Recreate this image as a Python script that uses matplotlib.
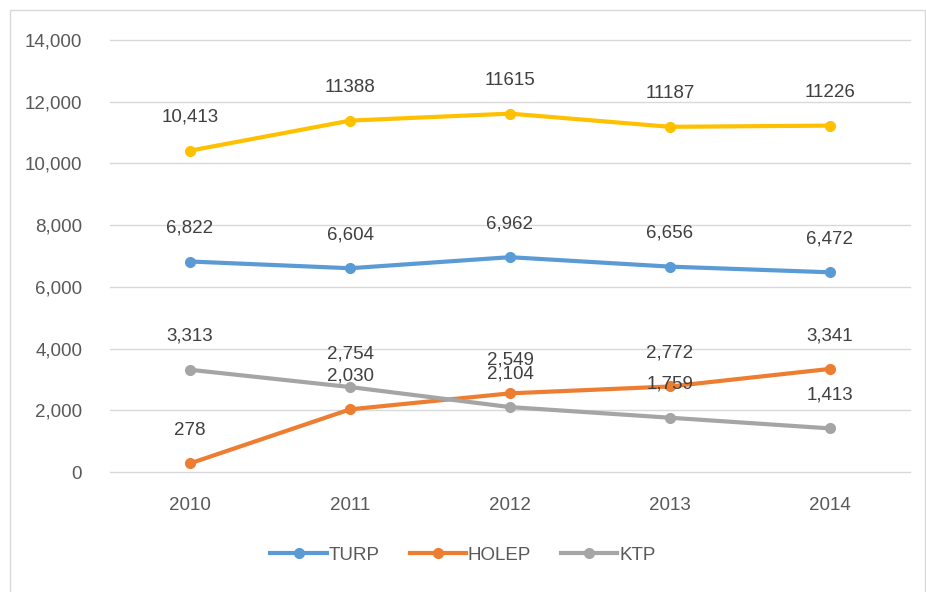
import matplotlib
matplotlib.use('Agg')
from matplotlib import pyplot as plt
from matplotlib.lines import Line2D

years = ['2010', '2011', '2012', '2013', '2014']
top_series = [10413, 11388, 11615, 11187, 11226]
top_labels = ['10,413', '11388', '11615', '11187', '11226']
turp = [6822, 6604, 6962, 6656, 6472]
turp_labels = ['6,822', '6,604', '6,962', '6,656', '6,472']
holep = [278, 2030, 2549, 2772, 3341]
holep_labels = ['278', '2,030', '2,549', '2,772', '3,341']
ktp = [3313, 2754, 2104, 1759, 1413]
ktp_labels = ['3,313', '2,754', '2,104', '1,759', '1,413']
y_ticks = [0, 2000, 4000, 6000, 8000, 10000, 12000, 14000]

plt.rcParams['font.family'] = ['Liberation Sans', 'DejaVu Sans']

text_color = '#595959'
fig = plt.figure(figsize=(9.26, 5.92), dpi=100)
ax = fig.add_axes([0.1188, 0.2027, 0.8639, 0.7297])

x = list(range(len(years)))
series = [
    (top_series, top_labels, '#FFC000', None),
    (turp, turp_labels, '#5B9BD5', 'TURP'),
    (holep, holep_labels, '#ED7D31', 'HOLEP'),
    (ktp, ktp_labels, '#A5A5A5', 'KTP'),
]
for values, labels, color, name in series:
    ax.plot(x, values, color=color, lw=3, marker='o', ms=7, zorder=3, label=name)
    for xi, v, lab in zip(x, values, labels):
        ax.annotate(lab, (xi, v), xytext=(0, 24), textcoords='offset points',
                    ha='center', va='center', fontsize=13.5, color='#404040', zorder=4)

ax.set_xlim(-0.5, len(years) - 0.5)
ax.set_ylim(0, 14000)
ax.set_yticks(y_ticks)
ax.set_yticklabels([f'{t:,}' for t in y_ticks])
ax.set_xticks(x)
ax.set_xticklabels(years)
ax.grid(axis='y', color='#D9D9D9', lw=1, clip_on=False)
ax.set_axisbelow(True)
for s in ax.spines.values():
    s.set_visible(False)
ax.tick_params(length=0, labelsize=13.5, labelcolor=text_color)
ax.tick_params(axis='y', pad=20)
ax.tick_params(axis='x', pad=18)

handles = [Line2D([], [], color=c, lw=3, marker='o', ms=7) for _, _, c, n in series[1:]]
names = [n for _, _, _, n in series[1:]]
fig.legend(handles, names, loc='center', bbox_to_anchor=(0.5, 0.0625), ncol=3,
           frameon=False, fontsize=13.5, labelcolor=text_color, handlelength=3,
           handletextpad=0.1, columnspacing=1.6)

# outer chart border
fig.add_artist(Line2D([10 / 926, 10 / 926, 925 / 926, 925 / 926], [0, 582 / 592, 582 / 592, 0],
                      transform=fig.transFigure, color='#D9D9D9', lw=1))

fig.savefig('out.png', dpi=100)
